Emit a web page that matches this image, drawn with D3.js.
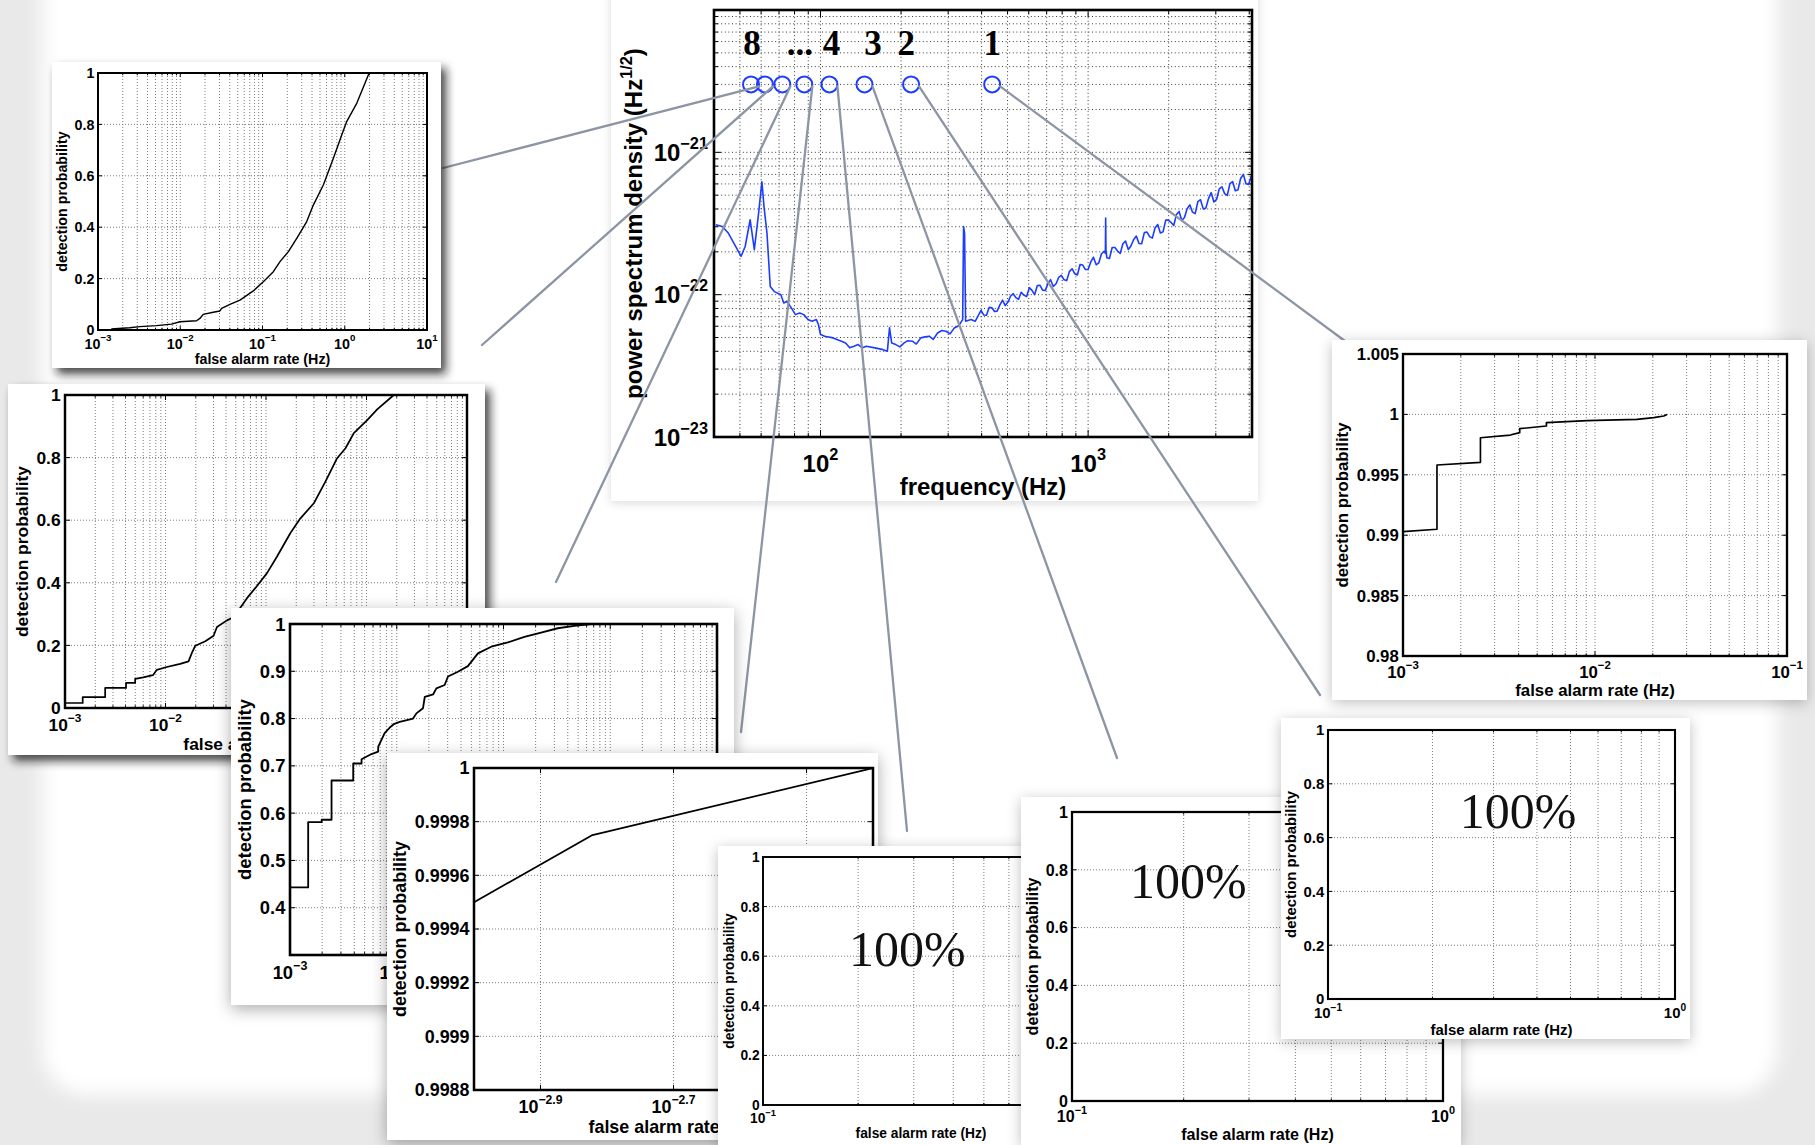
<!DOCTYPE html>
<html>
<head>
<meta charset="utf-8">
<title>Detection performance across the detector noise band</title>
<script src="https://cdn.jsdelivr.net/npm/d3@7/dist/d3.min.js"></script>
<style>
  html, body { margin: 0; padding: 0; background: #e9e9e9; }
  svg { display: block; }
</style>
</head>
<body>
<svg id="fig" width="1815" height="1145"></svg>
<script>
// ===== Detector noise amplitude spectrum: [frequency (Hz), amplitude (Hz^-1/2)] =====
const psdPoints = [
  [40.6, 3.10e-22], [43.0, 3.01e-22], [45.3, 2.70e-22], [50.5, 1.86e-22], [52.3, 2.18e-22],
  [54.6, 3.36e-22], [56.6, 2.07e-22], [58.7, 3.73e-22], [60.4, 6.22e-22], [61.5, 4.16e-22],
  [63.1, 2.70e-22], [64.9, 1.14e-22], [67.3, 1.05e-22], [71.1, 1.00e-22], [72.9, 8.74e-23],
  [75.0, 8.98e-23], [77.8, 8.07e-23], [80.6, 7.24e-23], [83.6, 7.44e-23], [86.6, 7.24e-23],
  [89.8, 6.68e-23], [93.0, 6.50e-23], [96.5, 6.68e-23], [98.2, 6.17e-23], [100, 5.25e-23],
  [103.7, 5.11e-23], [111.4, 4.97e-23], [119.7, 4.71e-23], [124.1, 4.58e-23], [128.6, 4.23e-23],
  [133.4, 4.34e-23], [138.2, 4.46e-23], [143.3, 4.23e-23], [148.5, 4.34e-23], [159.6, 4.23e-23],
  [171.3, 4.11e-23], [177.8, 4.01e-23], [181.1, 5.84e-23], [184.5, 4.58e-23], [191.1, 4.46e-23],
  [198, 4.30e-23], [205.4, 4.58e-23], [212, 4.75e-23], [220.6, 4.71e-23], [228, 4.50e-23],
  [237.1, 4.97e-23], [246, 5.05e-23], [254.7, 5.11e-23], [264, 4.85e-23], [273.8, 5.38e-23],
  [284, 5.60e-23], [294.2, 5.53e-23], [305, 5.30e-23], [316.2, 5.84e-23], [326, 6.00e-23],
  [333.7, 6.33e-23], [339.8, 6.68e-23], [342.5, 3.01e-22], [345.5, 2.70e-22], [348.5, 6.50e-23],
  [365.2, 6.68e-23], [378.4, 6.50e-23],
  [398, 7.76e-23], [407, 7.20e-23], [417, 7.16e-23], [427, 8.14e-23], [437, 8.09e-23],
  [447, 7.62e-23], [457, 7.66e-23], [468, 8.47e-23], [479, 9.16e-23], [490, 8.38e-23],
  [501, 8.83e-23], [513, 9.75e-23], [525, 1.016e-22], [537, 9.53e-23], [550, 9.27e-23],
  [562, 1.039e-22], [575, 9.93e-23], [589, 9.70e-23], [603, 1.12e-22], [617, 1.073e-22],
  [631, 1.00e-22], [646, 1.158e-22], [661, 1.164e-22], [676, 1.076e-22], [692, 1.072e-22],
  [708, 1.201e-22], [724, 1.274e-22], [741, 1.142e-22], [759, 1.194e-22], [776, 1.321e-22],
  [794, 1.365e-22], [813, 1.272e-22], [832, 1.256e-22], [851, 1.452e-22], [871, 1.521e-22],
  [891, 1.403e-22], [912, 1.374e-22], [933, 1.628e-22], [955, 1.614e-22], [977, 1.501e-22],
  [1000, 1.503e-22], [1023, 1.698e-22], [1047, 1.832e-22], [1072, 1.621e-22], [1096, 1.671e-22],
  [1122, 1.938e-22], [1148, 2.014e-22], [1160, 1.95e-22], [1163, 3.45e-22], [1166, 2.05e-22],
  [1175, 1.817e-22], [1202, 1.799e-22], [1230, 2.145e-22], [1259, 2.143e-22], [1288, 2.027e-22],
  [1318, 1.950e-22], [1349, 2.277e-22], [1380, 2.377e-22], [1413, 2.078e-22], [1445, 2.198e-22],
  [1479, 2.431e-22], [1514, 2.582e-22], [1549, 2.287e-22], [1585, 2.280e-22], [1622, 2.729e-22],
  [1660, 2.754e-22], [1698, 2.556e-22], [1738, 2.495e-22], [1778, 2.937e-22], [1820, 3.112e-22],
  [1862, 2.710e-22], [1905, 2.761e-22], [1950, 3.338e-22], [1995, 3.342e-22], [2042, 3.215e-22],
  [2089, 3.062e-22], [2138, 3.654e-22], [2188, 3.846e-22], [2239, 3.322e-22], [2291, 3.483e-22],
  [2344, 4.020e-22], [2399, 4.276e-22], [2455, 3.798e-22], [2512, 3.707e-22], [2570, 4.498e-22],
  [2630, 4.645e-22], [2692, 4.005e-22], [2754, 4.055e-22], [2818, 4.733e-22], [2884, 5.212e-22],
  [2951, 4.478e-22], [3020, 4.667e-22], [3090, 5.540e-22], [3162, 5.728e-22], [3236, 5.131e-22],
  [3311, 4.977e-22], [3388, 6.033e-22], [3467, 6.237e-22], [3548, 5.375e-22], [3631, 5.445e-22],
  [3715, 6.556e-22], [3802, 6.998e-22], [3890, 6.007e-22], [3981, 5.957e-22], [4096, 7.08e-22]
];
const psdFreqDomain = [40, 4096];
const psdAsdDomain = [1e-23, 1e-20];
const psdXTickExp = [2, 3];
const psdYTickExp = [-21, -22, -23];

// Central frequencies of the eight signal families marked on the spectrum
const markerFreq = [55, 62, 72, 87, 108, 146, 218, 438];
const markerAsd = 3.0e-21;
const markerLabels = ["8", "...", "4", "3", "2", "1"];
const markerLabelFreq = [55.5, 83.7, 110, 157, 209, 438.5];
const markerLabelAsd = 4.8e-21;

// ===== Detection probability vs false alarm rate: [rate (Hz), probability] =====
const curveA = [
  [0.00145, 0.004], [0.00243, 0.009], [0.00322, 0.013], [0.00514, 0.017], [0.00782, 0.023],
  [0.00989, 0.032], [0.01578, 0.036], [0.01734, 0.045], [0.01902, 0.061], [0.02517, 0.069],
  [0.03034, 0.074], [0.03182, 0.084], [0.04018, 0.100], [0.05318, 0.116], [0.07727, 0.152],
  [0.1023, 0.188], [0.1355, 0.227], [0.1633, 0.266], [0.2064, 0.305], [0.2608, 0.357],
  [0.3451, 0.422], [0.4160, 0.487], [0.5508, 0.565], [0.7291, 0.669], [0.9209, 0.760],
  [1.059, 0.812], [1.403, 0.883], [1.946, 0.994], [2.04, 1.0]
];
const curveB = [
  [0.001, 0.016], [0.0015, 0.016], [0.0015, 0.035], [0.00251, 0.035], [0.00251, 0.064],
  [0.00405, 0.064], [0.00405, 0.080], [0.00499, 0.080], [0.00499, 0.093], [0.0060, 0.098],
  [0.0075, 0.105], [0.0082, 0.122], [0.0103, 0.131], [0.0140, 0.141], [0.01695, 0.149],
  [0.0183, 0.176], [0.0198, 0.199], [0.0249, 0.213], [0.0301, 0.231], [0.0325, 0.259],
  [0.0409, 0.280], [0.0476, 0.290], [0.0647, 0.351], [0.0813, 0.390], [0.1023, 0.431],
  [0.1288, 0.484], [0.175, 0.559], [0.220, 0.606], [0.299, 0.654], [0.390, 0.723],
  [0.510, 0.798], [0.618, 0.830], [0.748, 0.878], [1.016, 0.920], [1.277, 0.954], [1.87, 1.0]
];
const curveC = [
  [0.001, 0.443], [0.00148, 0.443], [0.00148, 0.581], [0.00198, 0.581], [0.00198, 0.586],
  [0.00245, 0.586], [0.00245, 0.669], [0.00391, 0.669], [0.00391, 0.705], [0.00468, 0.705],
  [0.00468, 0.714], [0.0058, 0.725], [0.0067, 0.730], [0.0067, 0.740], [0.0077, 0.769],
  [0.0086, 0.781], [0.0095, 0.789], [0.01066, 0.793], [0.01422, 0.800], [0.01528, 0.811],
  [0.01762, 0.822], [0.0183, 0.846], [0.0219, 0.851], [0.0235, 0.864], [0.0281, 0.871],
  [0.0302, 0.889], [0.0374, 0.899], [0.0464, 0.911], [0.0576, 0.938], [0.0767, 0.952],
  [0.1097, 0.961], [0.157, 0.973], [0.225, 0.982], [0.322, 0.991], [0.461, 0.996], [0.659, 1.0]
];
const curveD = [[0.001, 0.9995], [0.001507, 0.99975], [0.00398, 1.0]];
const curveH = [
  [0.001, 0.99029], [0.001503, 0.99049], [0.001503, 0.99581], [0.002531, 0.99603],
  [0.002531, 0.99807], [0.003624, 0.99829], [0.004055, 0.99849], [0.004055, 0.99882],
  [0.005585, 0.99904], [0.005585, 0.99932], [0.009078, 0.99948], [0.01655, 0.99959],
  [0.02023, 0.99973], [0.02281, 0.99987], [0.02372, 1.0]
];

const probTicksUnit = [0, 0.2, 0.4, 0.6, 0.8, 1];
const probTicksC = [0.4, 0.5, 0.6, 0.7, 0.8, 0.9, 1];
const probTicksD = [0.9988, 0.999, 0.9992, 0.9994, 0.9996, 0.9998, 1];
const probTicksH = [0.98, 0.985, 0.99, 0.995, 1, 1.005];
const rateTickExpWide = [-3, -2, -1, 0, 1];
const rateTickExpD = [-2.9, -2.7, -2.5];
const rateTickExpUnit = [-1, 0];
const rateTickExpH = [-3, -2, -1];

// Families with every injection recovered: note text and its place in data units
const fullDetectionText = "100%";
const fullDetectionE = [0.286, 0.63];
const fullDetectionF = [0.206, 0.76];
const fullDetectionG = [0.353, 0.70];

// ===== Layout =====
const SANS = "'Liberation Sans', Arial, Helvetica, sans-serif";
const SERIF = "'Liberation Serif', 'Times New Roman', serif";
const W = 1815, H = 1145;
const svg = d3.select("#fig");
const defs = svg.append("defs");

function shadowFilter(id, dx, dy, std, color, opacity) {
  const f = defs.append("filter").attr("id", id)
    .attr("x", "-20%").attr("y", "-20%").attr("width", "150%").attr("height", "150%");
  f.append("feDropShadow").attr("dx", dx).attr("dy", dy).attr("stdDeviation", std)
    .attr("flood-color", color).attr("flood-opacity", opacity);
}
shadowFilter("shDark", 5, 6, 5, "#1a1a1a", 0.8);
shadowFilter("shMid", 0, 4, 8, "#000", 0.33);
shadowFilter("shLight", 0, 3, 7, "#000", 0.25);
shadowFilter("shMain", 0, 2, 5, "#000", 0.14);
const soft = defs.append("filter").attr("id", "soft")
  .attr("x", "-5%").attr("y", "-5%").attr("width", "110%").attr("height", "110%");
soft.append("feGaussianBlur").attr("stdDeviation", 9);

// slide backdrop
svg.append("rect").attr("width", W).attr("height", H).attr("fill", "#e9e9e9");
svg.append("rect").attr("x", 42).attr("y", -80).attr("width", 1736).attr("height", 1175)
  .attr("rx", 45).attr("fill", "#fff").attr("filter", "url(#soft)");

const fmtExp = e => (e < 0 ? "\u2212" : "") + Math.abs(e);

function powText(parent, x, y, exp, fs, anchor) {
  const t = parent.append("text")
    .attr("x", x).attr("y", y).attr("text-anchor", anchor)
    .attr("font-family", SANS).attr("font-weight", "bold")
    .attr("font-size", fs).attr("fill", "#000");
  t.append("tspan").text("10");
  t.append("tspan").attr("dy", -0.5 * fs).attr("font-size", 0.68 * fs).text(fmtExp(exp));
  return t;
}

// ===== Main spectrum =====
const mainCard = [611, -20, 1258, 501];
const mainAxes = [714, 10, 1252, 437];
const mg = svg.append("g");
mg.append("rect").attr("x", mainCard[0]).attr("y", mainCard[1])
  .attr("width", mainCard[2] - mainCard[0]).attr("height", mainCard[3] - mainCard[1])
  .attr("fill", "#fff").attr("filter", "url(#shMain)");

const [mx0, my0, mx1, my1] = mainAxes;
const xF = d3.scaleLog().domain(psdFreqDomain).range([mx0, mx1]);
const yA = d3.scaleLog().domain(psdAsdDomain).range([my1, my0]);

const mGridX = xF.ticks().filter(v => xF(v) > mx0 + 1 && xF(v) < mx1 - 1);
const mGridY = yA.ticks().filter(v => yA(v) > my0 + 1 && yA(v) < my1 - 1);
mg.append("g").selectAll("line").data(mGridX).join("line")
  .attr("x1", d => xF(d)).attr("x2", d => xF(d)).attr("y1", my0).attr("y2", my1)
  .attr("stroke", "#3a3a3a").attr("stroke-width", 1).attr("stroke-dasharray", "1,2.6");
mg.append("g").selectAll("line").data(mGridY).join("line")
  .attr("y1", d => yA(d)).attr("y2", d => yA(d)).attr("x1", mx0).attr("x2", mx1)
  .attr("stroke", "#3a3a3a").attr("stroke-width", 1).attr("stroke-dasharray", "1,2.6");

// inward tick marks on all four sides
const majorF = psdXTickExp.map(e => Math.pow(10, e));
const majorA = psdYTickExp.map(e => Math.pow(10, e));
mGridX.forEach(v => {
  const L = majorF.includes(v) ? 7 : 4;
  mg.append("line").attr("x1", xF(v)).attr("x2", xF(v)).attr("y1", my1).attr("y2", my1 - L).attr("stroke", "#000");
  mg.append("line").attr("x1", xF(v)).attr("x2", xF(v)).attr("y1", my0).attr("y2", my0 + L).attr("stroke", "#000");
});
mGridY.forEach(v => {
  const L = majorA.some(m => Math.abs(m - v) / v < 1e-6) ? 7 : 4;
  mg.append("line").attr("y1", yA(v)).attr("y2", yA(v)).attr("x1", mx0).attr("x2", mx0 + L).attr("stroke", "#000");
  mg.append("line").attr("y1", yA(v)).attr("y2", yA(v)).attr("x1", mx1).attr("x2", mx1 - L).attr("stroke", "#000");
});

defs.append("clipPath").attr("id", "clipMain").append("rect")
  .attr("x", mx0).attr("y", my0).attr("width", mx1 - mx0).attr("height", my1 - my0);
mg.append("path").datum(psdPoints)
  .attr("clip-path", "url(#clipMain)")
  .attr("fill", "none").attr("stroke", "#1c3cff").attr("stroke-width", 1.6)
  .attr("stroke-linejoin", "round")
  .attr("d", d3.line().x(d => xF(d[0])).y(d => yA(d[1])));

// marker circles and their family numbers
mg.append("g").selectAll("circle").data(markerFreq).join("circle")
  .attr("cx", d => xF(d)).attr("cy", yA(markerAsd)).attr("r", 8)
  .attr("fill", "none").attr("stroke", "#1c3cff").attr("stroke-width", 2);
mg.append("g").selectAll("text").data(markerLabels).join("text")
  .attr("x", (d, i) => xF(markerLabelFreq[i])).attr("y", yA(markerLabelAsd))
  .attr("text-anchor", "middle").attr("font-family", SERIF).attr("font-weight", "bold")
  .attr("font-size", 35).attr("fill", "#000").text(d => d);

mg.append("rect").attr("x", mx0).attr("y", my0).attr("width", mx1 - mx0).attr("height", my1 - my0)
  .attr("fill", "none").attr("stroke", "#000").attr("stroke-width", 2.6);

const MFS = 24;
psdYTickExp.forEach(e => powText(mg, mx0 - 6, yA(Math.pow(10, e)) + 0.36 * MFS, e, MFS, "end"));
psdXTickExp.forEach(e => powText(mg, xF(Math.pow(10, e)), my1 + 35, e, MFS, "middle"));
mg.append("text").attr("x", (mx0 + mx1) / 2).attr("y", 495).attr("text-anchor", "middle")
  .attr("font-family", SANS).attr("font-weight", "bold").attr("font-size", MFS).text("frequency (Hz)");
const yl = mg.append("text")
  .attr("transform", `translate(634,${(my0 + my1) / 2}) rotate(-90)`)
  .attr("dy", "0.35em").attr("text-anchor", "middle")
  .attr("font-family", SANS).attr("font-weight", "bold").attr("font-size", MFS);
yl.append("tspan").text("power spectrum density (Hz");
yl.append("tspan").attr("dy", -0.45 * MFS).attr("font-size", 0.68 * MFS).text("1/2");
yl.append("tspan").attr("dy", 0.45 * MFS).text(")");

// ===== Leader lines from each family marker to its efficiency plot =====
const leaderEnds = [[443, 168], [482, 345], [556, 582], [741, 732], [907, 831], [1117, 758], [1320, 695], [1349, 344]];
svg.append("g").selectAll("line").data(markerFreq).join("line")
  .attr("x1", d => xF(d) + 8).attr("y1", yA(markerAsd) + 2)
  .attr("x2", (d, i) => leaderEnds[i][0]).attr("y2", (d, i) => leaderEnds[i][1])
  .attr("stroke", "#8c95a3").attr("stroke-width", 2.3).attr("stroke-linecap", "round");

// ===== Efficiency insets =====
const insets = [
  { card: [52, 62, 441, 368], axes: [98, 73, 427, 330], shadow: "shDark",
    xDomain: [1e-3, 10], yDomain: [0, 1], xTickExp: rateTickExpWide, yTicks: probTicksUnit, logGrid: true, curve: curveA },
  { card: [8, 384, 485, 755], axes: [65, 395, 467, 708], shadow: "shDark",
    xDomain: [1e-3, 10], yDomain: [0, 1], xTickExp: rateTickExpWide, yTicks: probTicksUnit, logGrid: true, curve: curveB },
  { card: [231, 608, 734, 1005], axes: [290, 624, 717, 955], shadow: "shMid",
    xDomain: [1e-3, 10], yDomain: [0.3, 1], xTickExp: rateTickExpWide, yTicks: probTicksC, logGrid: true, curve: curveC },
  { card: [387, 753, 878, 1140], axes: [474, 768, 873, 1090], shadow: "shMid",
    xDomain: [0.001, 0.00398], yDomain: [0.9988, 1], xTickExp: rateTickExpD, yTicks: probTicksD, logGrid: false, curve: curveD },
  { card: [718, 846, 1100, 1145], axes: [763, 857, 1079, 1105], shadow: "shLight",
    xDomain: [0.1, 1], yDomain: [0, 1], xTickExp: rateTickExpUnit, yTicks: probTicksUnit, logGrid: true, note: fullDetectionE },
  { card: [1021, 797, 1461, 1145], axes: [1072, 812, 1443, 1101], shadow: "shLight",
    xDomain: [0.1, 1], yDomain: [0, 1], xTickExp: rateTickExpUnit, yTicks: probTicksUnit, logGrid: true, note: fullDetectionF },
  { card: [1281, 718, 1690, 1039], axes: [1328, 730, 1675, 999], shadow: "shLight",
    xDomain: [0.1, 1], yDomain: [0, 1], xTickExp: rateTickExpUnit, yTicks: probTicksUnit, logGrid: true, note: fullDetectionG },
  { card: [1332, 340, 1807, 700], axes: [1403, 354, 1787, 656], shadow: "shLight",
    xDomain: [1e-3, 0.1], yDomain: [0.98, 1.005], xTickExp: rateTickExpH, yTicks: probTicksH, logGrid: true, curve: curveH }
];

insets.forEach((spec, idx) => {
  const g = svg.append("g");
  const [c0x, c0y, c1x, c1y] = spec.card;
  g.append("rect").attr("x", c0x).attr("y", c0y).attr("width", c1x - c0x).attr("height", c1y - c0y)
    .attr("fill", "#fff").attr("filter", `url(#${spec.shadow})`);

  const [ax0, ay0, ax1, ay1] = spec.axes;
  const h = ay1 - ay0;
  const fs = 0.0556 * h;
  const x = d3.scaleLog().domain(spec.xDomain).range([ax0, ax1]);
  const y = d3.scaleLinear().domain(spec.yDomain).range([ay1, ay0]);
  const xTickVals = spec.xTickExp.map(e => Math.pow(10, e));
  const xGrid = (spec.logGrid ? x.ticks() : xTickVals).filter(v => x(v) > ax0 + 1 && x(v) < ax1 - 1);
  const yGrid = spec.yTicks.filter(v => y(v) > ay0 + 1 && y(v) < ay1 - 1);

  g.append("g").selectAll("line").data(xGrid).join("line")
    .attr("x1", d => x(d)).attr("x2", d => x(d)).attr("y1", ay0).attr("y2", ay1)
    .attr("stroke", "#7d7d7d").attr("stroke-width", 1).attr("stroke-dasharray", "1,2");
  g.append("g").selectAll("line").data(yGrid).join("line")
    .attr("x1", ax0).attr("x2", ax1).attr("y1", d => y(d)).attr("y2", d => y(d))
    .attr("stroke", "#7d7d7d").attr("stroke-width", 1).attr("stroke-dasharray", "1,2");

  const L = 0.016 * h;
  xGrid.forEach(v => {
    const len = xTickVals.some(m => Math.abs(m - v) / v < 1e-6) ? L : L * 0.55;
    g.append("line").attr("x1", x(v)).attr("x2", x(v)).attr("y1", ay1).attr("y2", ay1 - len).attr("stroke", "#000");
    g.append("line").attr("x1", x(v)).attr("x2", x(v)).attr("y1", ay0).attr("y2", ay0 + len).attr("stroke", "#000");
  });
  yGrid.forEach(v => {
    g.append("line").attr("x1", ax0).attr("x2", ax0 + L).attr("y1", y(v)).attr("y2", y(v)).attr("stroke", "#000");
    g.append("line").attr("x1", ax1).attr("x2", ax1 - L).attr("y1", y(v)).attr("y2", y(v)).attr("stroke", "#000");
  });

  if (spec.curve) {
    const cid = "clipInset" + idx;
    defs.append("clipPath").attr("id", cid).append("rect")
      .attr("x", ax0).attr("y", ay0 - 1).attr("width", ax1 - ax0).attr("height", h + 2);
    g.append("path").datum(spec.curve).attr("clip-path", `url(#${cid})`)
      .attr("fill", "none").attr("stroke", "#000").attr("stroke-width", Math.max(1.3, 0.0055 * h))
      .attr("stroke-linejoin", "round")
      .attr("d", d3.line().x(d => x(d[0])).y(d => y(d[1])));
  }
  if (spec.note) {
    g.append("text").attr("x", x(spec.note[0])).attr("y", y(spec.note[1]))
      .attr("text-anchor", "middle").attr("dominant-baseline", "central")
      .attr("font-family", SERIF).attr("font-size", 50).attr("fill", "#111")
      .text(fullDetectionText);
  }

  g.append("rect").attr("x", ax0).attr("y", ay0).attr("width", ax1 - ax0).attr("height", h)
    .attr("fill", "none").attr("stroke", "#000").attr("stroke-width", Math.max(1.8, 0.0078 * h));

  let maxW = 0;
  spec.yTicks.forEach(v => {
    const t = g.append("text").attr("x", ax0 - 0.25 * fs).attr("y", y(v) + 0.36 * fs)
      .attr("text-anchor", "end").attr("font-family", SANS).attr("font-weight", "bold")
      .attr("font-size", fs).attr("fill", "#000").text(String(v));
    maxW = Math.max(maxW, t.node().getComputedTextLength());
  });
  xTickVals.forEach((v, i) => powText(g, x(v), ay1 + 1.3 * fs, spec.xTickExp[i], fs, "middle"));

  g.append("text").attr("x", (ax0 + ax1) / 2).attr("y", ay1 + 2.4 * fs).attr("text-anchor", "middle")
    .attr("font-family", SANS).attr("font-weight", "bold").attr("font-size", fs).attr("fill", "#000")
    .text("false alarm rate (Hz)");
  const lx = ax0 - 0.25 * fs - maxW - 0.85 * fs;
  g.append("text").attr("transform", `translate(${lx},${(ay0 + ay1) / 2}) rotate(-90)`)
    .attr("dy", "0.35em").attr("text-anchor", "middle")
    .attr("font-family", SANS).attr("font-weight", "bold").attr("font-size", fs).attr("fill", "#000")
    .text("detection probability");
});
</script>
</body>
</html>
